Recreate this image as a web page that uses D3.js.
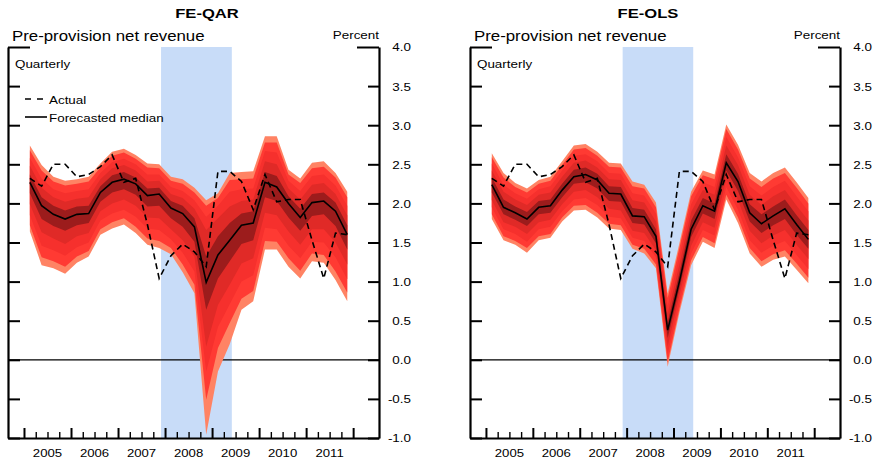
<!DOCTYPE html>
<html><head><meta charset="utf-8">
<script src="https://cdn.jsdelivr.net/npm/d3@7"></script>
<style>
body{margin:0;background:#fff}
svg{display:block}
text{font-family:"Liberation Sans",Arial,Helvetica,sans-serif;fill:#000}
</style>
</head><body>
<svg id="chart" width="876" height="459"></svg>
<script>
// ---------------- data ----------------
const quarters = ["2005Q1","2005Q2","2005Q3","2005Q4","2006Q1","2006Q2","2006Q3","2006Q4",
  "2007Q1","2007Q2","2007Q3","2007Q4","2008Q1","2008Q2","2008Q3","2008Q4",
  "2009Q1","2009Q2","2009Q3","2009Q4","2010Q1","2010Q2","2010Q3","2010Q4",
  "2011Q1","2011Q2","2011Q3","2011Q4"];
const years = ["2005","2006","2007","2008","2009","2010","2011"];
const yTicks = [-1,-0.5,0,0.5,1,1.5,2,2.5,3,3.5,4];
const yTickLabels = ["-1.0","-0.5","0.0","0.5","1.0","1.5","2.0","2.5","3.0","3.5","4.0"];
const recession = [2007.915, 2009.42];

const actual = [2.32,2.22,2.50,2.50,2.34,2.37,2.47,2.62,2.27,2.32,1.73,1.04,1.33,1.48,1.38,1.19,
  2.41,2.41,2.28,1.92,2.37,2.02,2.05,2.05,1.53,1.04,1.62,1.60];

// FE-QAR percentiles
const qarP95 = [2.74,2.49,2.34,2.29,2.31,2.34,2.51,2.66,2.70,2.62,2.51,2.50,2.34,2.31,2.20,2.04,2.13,2.39,2.40,2.41,2.86,2.86,2.43,2.32,2.52,2.54,2.39,2.15];
const qarP90 = [2.68,2.42,2.28,2.23,2.25,2.28,2.46,2.61,2.65,2.57,2.46,2.45,2.29,2.25,2.14,1.97,2.07,2.30,2.31,2.32,2.78,2.78,2.37,2.26,2.45,2.47,2.33,2.08];
const qarP80 = [2.58,2.32,2.18,2.13,2.16,2.18,2.39,2.53,2.57,2.50,2.37,2.37,2.21,2.16,2.04,1.83,1.97,2.15,2.18,2.19,2.67,2.65,2.29,2.16,2.35,2.37,2.23,1.97];
const qarP70 = [2.48,2.20,2.08,2.02,2.06,2.08,2.31,2.45,2.49,2.42,2.28,2.29,2.12,2.07,1.93,1.66,1.81,1.96,2.03,2.05,2.54,2.50,2.19,2.05,2.24,2.26,2.12,1.85];
const qarP60 = [2.37,2.08,1.97,1.91,1.96,1.97,2.22,2.36,2.40,2.33,2.19,2.20,2.03,1.97,1.81,1.32,1.58,1.75,1.87,1.90,2.40,2.35,2.09,1.93,2.12,2.14,2.01,1.72];
const qarMedian = [2.27,1.97,1.86,1.80,1.86,1.87,2.14,2.27,2.31,2.25,2.10,2.12,1.94,1.87,1.70,0.99,1.34,1.53,1.72,1.75,2.27,2.21,2.00,1.82,2.01,2.03,1.90,1.60];
const qarP40 = [2.13,1.80,1.71,1.65,1.72,1.75,2.02,2.14,2.18,2.11,1.96,1.97,1.81,1.70,1.51,0.64,1.04,1.26,1.48,1.53,2.08,2.03,1.82,1.65,1.84,1.86,1.71,1.41];
const qarP30 = [1.99,1.63,1.55,1.48,1.58,1.62,1.90,2.00,2.05,1.97,1.82,1.81,1.67,1.53,1.32,0.17,0.70,0.96,1.23,1.30,1.88,1.85,1.64,1.47,1.67,1.67,1.50,1.22];
const qarP20 = [1.85,1.46,1.40,1.33,1.44,1.50,1.78,1.87,1.92,1.83,1.68,1.66,1.54,1.37,1.13,-0.15,0.42,0.71,1.00,1.08,1.69,1.67,1.46,1.30,1.51,1.50,1.31,1.03];
const qarP10 = [1.72,1.31,1.26,1.19,1.32,1.39,1.67,1.76,1.81,1.70,1.55,1.52,1.43,1.22,0.96,-0.51,0.15,0.47,0.78,0.88,1.52,1.51,1.30,1.14,1.36,1.34,1.13,0.86];
const qarP05 = [1.64,1.21,1.17,1.10,1.24,1.32,1.60,1.68,1.73,1.62,1.47,1.43,1.35,1.12,0.85,-0.96,-0.15,0.20,0.64,0.75,1.41,1.41,1.19,1.04,1.26,1.24,1.02,0.75];

// FE-OLS percentiles
const olsP95 = [2.64,2.39,2.26,2.19,2.30,2.34,2.54,2.74,2.76,2.66,2.52,2.51,2.28,2.24,2.01,0.85,1.49,2.15,2.42,2.37,3.01,2.75,2.39,2.28,2.39,2.46,2.27,2.07];
const olsP90 = [2.59,2.33,2.21,2.14,2.25,2.29,2.49,2.69,2.71,2.61,2.47,2.46,2.22,2.19,1.95,0.79,1.43,2.09,2.36,2.31,2.95,2.69,2.32,2.21,2.32,2.39,2.20,2.00];
const olsP80 = [2.51,2.24,2.13,2.06,2.18,2.22,2.42,2.61,2.63,2.54,2.39,2.38,2.13,2.10,1.87,0.69,1.33,1.99,2.27,2.21,2.85,2.59,2.22,2.10,2.21,2.29,2.09,1.90];
const olsP70 = [2.42,2.15,2.05,1.98,2.11,2.14,2.34,2.52,2.55,2.46,2.31,2.30,2.04,2.01,1.77,0.59,1.22,1.89,2.17,2.11,2.74,2.49,2.11,1.98,2.09,2.17,1.97,1.78];
const olsP60 = [2.33,2.05,1.96,1.89,2.03,2.05,2.25,2.43,2.46,2.38,2.22,2.21,1.94,1.92,1.67,0.48,1.11,1.78,2.07,2.00,2.63,2.38,1.99,1.86,1.96,2.05,1.85,1.66];
const olsMedian = [2.24,1.95,1.88,1.80,1.95,1.97,2.17,2.34,2.37,2.30,2.13,2.12,1.84,1.83,1.58,0.38,1.00,1.67,1.97,1.90,2.52,2.28,1.88,1.74,1.84,1.93,1.73,1.54];
const olsP40 = [2.14,1.86,1.79,1.71,1.86,1.88,2.08,2.25,2.27,2.19,2.03,2.02,1.75,1.73,1.49,0.28,0.91,1.57,1.87,1.80,2.42,2.16,1.77,1.62,1.72,1.80,1.60,1.42];
const olsP30 = [2.04,1.76,1.70,1.61,1.76,1.79,1.99,2.15,2.17,2.08,1.93,1.91,1.65,1.62,1.40,0.17,0.82,1.46,1.76,1.69,2.31,2.04,1.65,1.49,1.59,1.66,1.47,1.29];
const olsP20 = [1.95,1.67,1.61,1.51,1.67,1.70,1.90,2.05,2.07,1.98,1.83,1.81,1.56,1.52,1.31,0.07,0.73,1.36,1.66,1.59,2.21,1.92,1.53,1.37,1.46,1.52,1.34,1.16];
const olsP10 = [1.86,1.58,1.52,1.43,1.58,1.61,1.82,1.97,1.98,1.88,1.74,1.72,1.47,1.42,1.22,-0.03,0.65,1.27,1.57,1.49,2.11,1.82,1.43,1.26,1.35,1.40,1.23,1.05];
const olsP05 = [1.80,1.53,1.47,1.37,1.53,1.56,1.77,1.91,1.92,1.82,1.68,1.66,1.42,1.36,1.17,-0.09,0.60,1.21,1.51,1.43,2.05,1.75,1.36,1.19,1.28,1.32,1.15,0.98];

// ---------------- drawing ----------------
const SX = 1.22; // horizontal stretch of the original lettering
const bandColors = ["#ff8364", "#ff3a33", "#f6302d", "#e02a27", "#9c1c1c"];
const svg = d3.select("#chart");

function qTime(q){ return +q.slice(0,4) + (+q.slice(5) - 0.5)/4; }
const qx = quarters.map(qTime);

function stretchedText(g, x, y, str, size, anchor, weight){
  return g.append("text")
    .attr("transform", `translate(${x},${y}) scale(${SX},1)`)
    .attr("text-anchor", anchor || "start")
    .style("font-size", size + "px")
    .style("font-weight", weight || "normal")
    .text(str);
}

const panels = [
  {title:"FE-QAR", left:8, right:379, titleX:207, legend:true,
   median:qarMedian, bands:[[qarP05,qarP95],[qarP10,qarP90],[qarP20,qarP80],[qarP30,qarP70],[qarP40,qarP60]]},
  {title:"FE-OLS", left:470, right:840, titleX:648, legend:false,
   median:olsMedian, bands:[[olsP05,olsP95],[olsP10,olsP90],[olsP20,olsP80],[olsP30,olsP70],[olsP40,olsP60]]}
];

const plotTop = 47, plotBottom = 438;
const y = d3.scaleLinear().domain([-1, 4]).range([plotBottom, plotTop]);

panels.forEach(p => {
  const g = svg.append("g");
  const x = d3.scaleLinear().domain([2004.66, 2012.55]).range([p.left, p.right]);

  // recession shading
  g.append("rect")
    .attr("x", x(recession[0])).attr("y", plotTop)
    .attr("width", x(recession[1]) - x(recession[0]))
    .attr("height", plotBottom - plotTop)
    .attr("fill", "#c8dcf8");

  // zero line
  g.append("line")
    .attr("x1", p.left).attr("x2", p.right)
    .attr("y1", y(0)).attr("y2", y(0))
    .attr("stroke", "#000").attr("stroke-width", 1.3);

  // fan bands
  p.bands.forEach((b, k) => {
    const area = d3.area()
      .x((d, i) => x(qx[i]))
      .y0((d, i) => y(b[0][i]))
      .y1((d, i) => y(b[1][i]));
    g.append("path").datum(quarters)
      .attr("d", area)
      .attr("fill", bandColors[k]);
  });

  // actual (dashed)
  const line = d3.line().x((d, i) => x(qx[i])).y(d => y(d));
  g.append("path").datum(actual)
    .attr("d", line)
    .attr("fill", "none").attr("stroke", "#000")
    .attr("stroke-width", 1.6).attr("stroke-dasharray", "6,4");

  // median (solid)
  g.append("path").datum(p.median)
    .attr("d", line)
    .attr("fill", "none").attr("stroke", "#000")
    .attr("stroke-width", 1.6);

  // axes
  const leftAxis = d3.axisLeft(y).tickValues(yTicks).tickSizeInner(-12).tickSizeOuter(0).tickFormat("");
  const la = g.append("g").attr("transform", `translate(${p.left},0)`).call(leftAxis);

  const rightAxis = d3.axisRight(y).tickValues(yTicks).tickSizeInner(-11).tickSizeOuter(0)
    .tickFormat((d, i) => yTickLabels[i]);
  const ra = g.append("g").attr("transform", `translate(${p.right},0)`).call(rightAxis);
  ra.selectAll(".tick text")
    .attr("x", null).attr("dy", "0.36em")
    .attr("transform", `translate(32,0) scale(${SX},1)`)
    .attr("text-anchor", "end")
    .style("font-size", "11px");

  // longer top tick (4.0)
  la.selectAll(".tick line").filter(d => d === 4).attr("x2", 22);
  ra.selectAll(".tick line").filter(d => d === 4).attr("x2", -22);

  const quarterTicks = [];
  for (let t = 2005; t <= 2012.0001; t += 0.25) quarterTicks.push(+t.toFixed(2));
  const yearTicks = quarterTicks.filter(t => Number.isInteger(t));
  const minorTicks = quarterTicks.filter(t => !Number.isInteger(t));

  const bAxisMinor = d3.axisBottom(x).tickValues(minorTicks).tickSizeInner(-6).tickSizeOuter(0).tickFormat("");
  const bm = g.append("g").attr("transform", `translate(0,${plotBottom})`).call(bAxisMinor);
  const bAxisMajor = d3.axisBottom(x).tickValues(yearTicks).tickSizeInner(-10).tickSizeOuter(0).tickFormat("");
  const bM = g.append("g").attr("transform", `translate(0,${plotBottom})`).call(bAxisMajor);
  bM.select(".domain").remove();

  [la, ra, bm].forEach(a => a.select(".domain").attr("stroke", "#000").attr("stroke-width", 2.2));
  la.selectAll(".tick line").attr("stroke", "#000").attr("stroke-width", 2);
  ra.selectAll(".tick line").attr("stroke", "#000").attr("stroke-width", 2);
  bm.selectAll(".tick line").attr("stroke", "#000").attr("stroke-width", 1.4);
  bM.selectAll(".tick line").attr("stroke", "#000").attr("stroke-width", 2);

  // year labels
  years.forEach(yr => {
    stretchedText(g, x(+yr + 0.5), 456.5, yr, 10.8, "middle");
  });

  // titles
  stretchedText(g, p.titleX, 18, p.title, 13.6, "middle", "bold");
  stretchedText(g, p.left + 4, 40.5, "Pre-provision net revenue", 13.8, "start");
  stretchedText(g, p.right, 38.5, "Percent", 11, "end");
  stretchedText(g, p.left + 7, 68, "Quarterly", 11, "start");

  if (p.legend) {
    g.append("line").attr("x1", p.left + 17).attr("x2", p.left + 35)
      .attr("y1", 99).attr("y2", 99)
      .attr("stroke", "#000").attr("stroke-width", 1.6).attr("stroke-dasharray", "6,6");
    stretchedText(g, p.left + 41, 103.5, "Actual", 11, "start");
    g.append("line").attr("x1", p.left + 17).attr("x2", p.left + 39)
      .attr("y1", 117).attr("y2", 117)
      .attr("stroke", "#000").attr("stroke-width", 1.6);
    stretchedText(g, p.left + 41, 121.5, "Forecasted median", 11, "start");
  }
});
</script>
</body></html>
